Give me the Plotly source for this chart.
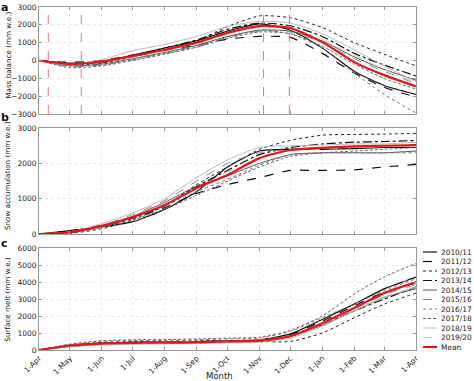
import plotly.graph_objects as go
from plotly.subplots import make_subplots

# ---------------- data ----------------
dates = ["2019-04-01", "2019-05-01", "2019-06-01", "2019-07-01", "2019-08-01", "2019-09-01",
         "2019-10-01", "2019-11-01", "2019-12-01", "2020-01-01", "2020-02-01", "2020-03-01",
         "2020-04-01"]

series_names = ["2010/11", "2011/12", "2012/13", "2013/14", "2014/15", "2015/16",
                "2016/17", "2017/18", "2018/19", "2019/20", "Mean"]

mass_balance = {
    "2010/11": [0, -150, -100, 300, 700, 1100, 1650, 2050, 1700, 700, -600, -1400, -1900],
    "2011/12": [0, -100, 0, 300, 600, 850, 1200, 1350, 1300, 400, -700, -1500, -2050],
    "2012/13": [0, -250, -150, 200, 600, 1100, 1900, 2500, 2400, 1850, 1000, 350, -300],
    "2013/14": [0, -200, -50, 250, 700, 1150, 1750, 2100, 1950, 1350, 400, -250, -870],
    "2014/15": [0, -300, -200, 100, 450, 850, 1350, 1700, 1650, 1100, 200, -500, -1100],
    "2015/16": [0, -350, -250, 50, 400, 800, 1300, 1650, 1600, 1000, 100, -600, -1300],
    "2016/17": [0, -300, -250, 50, 400, 750, 1300, 1700, 1500, 700, -700, -1900, -2950],
    "2017/18": [0, -400, -300, 0, 350, 750, 1250, 1600, 1500, 800, -200, -1000, -1600],
    "2018/19": [0, -250, 50, 550, 900, 1350, 1900, 2200, 2100, 1500, 600, -300, -1190],
    "2019/20": [0, -200, -100, 200, 550, 950, 1500, 1850, 1800, 1200, 300, -500, -1250],
    "Mean":    [0, -200, -50, 250, 600, 1000, 1550, 1930, 1820, 1030, -90, -820, -1450],
}

snow_accumulation = {
    "2010/11": [0, 100, 200, 350, 700, 1200, 1900, 2350, 2400, 2400, 2420, 2450, 2450],
    "2011/12": [0, 80, 250, 450, 750, 1150, 1400, 1600, 1800, 1800, 1820, 1900, 1970],
    "2012/13": [0, 20, 150, 400, 800, 1400, 1900, 2400, 2650, 2800, 2820, 2830, 2850],
    "2013/14": [0, 50, 200, 450, 800, 1350, 1800, 2250, 2450, 2550, 2600, 2620, 2650],
    "2014/15": [0, 50, 200, 500, 900, 1350, 1650, 2000, 2250, 2300, 2300, 2300, 2350],
    "2015/16": [0, 60, 250, 550, 950, 1500, 2000, 2300, 2400, 2450, 2480, 2500, 2500],
    "2016/17": [0, 30, 250, 500, 800, 1200, 1550, 1950, 2250, 2300, 2300, 2300, 2300],
    "2017/18": [0, 50, 200, 400, 700, 1100, 1500, 1900, 2200, 2300, 2350, 2400, 2450],
    "2018/19": [0, 60, 300, 600, 1000, 1600, 2100, 2450, 2500, 2520, 2550, 2550, 2600],
    "2019/20": [0, 40, 200, 500, 850, 1300, 1750, 2150, 2350, 2400, 2450, 2480, 2500],
    "Mean":    [0, 50, 230, 480, 820, 1300, 1670, 2150, 2380, 2440, 2480, 2500, 2520],
}

surface_melt = {
    "2010/11": [0, 250, 400, 450, 470, 500, 550, 600, 950, 1800, 2700, 3600, 4300],
    "2011/12": [0, 200, 350, 400, 420, 450, 500, 550, 900, 1700, 2600, 3400, 3950],
    "2012/13": [0, 300, 450, 500, 520, 540, 560, 500, 500, 1000, 1900, 2700, 3350],
    "2013/14": [0, 250, 400, 430, 450, 480, 520, 550, 850, 1500, 2300, 3000, 3700],
    "2014/15": [0, 300, 420, 460, 480, 500, 530, 580, 800, 1450, 2300, 3100, 3600],
    "2015/16": [0, 250, 400, 450, 470, 500, 550, 600, 850, 1500, 2400, 3250, 3850],
    "2016/17": [0, 300, 500, 550, 570, 600, 650, 700, 1100, 1900, 2700, 3500, 4200],
    "2017/18": [0, 350, 550, 600, 620, 650, 700, 750, 1150, 2000, 3300, 4300, 5100],
    "2018/19": [0, 200, 300, 330, 350, 380, 420, 450, 700, 1400, 2300, 3100, 3700],
    "2019/20": [0, 200, 350, 380, 400, 430, 480, 530, 800, 1500, 2400, 3300, 4500],
    "Mean":    [0, 250, 380, 420, 430, 450, 500, 550, 820, 1580, 2470, 3350, 4000],
}

event_dates = ["2019-04-10", "2019-05-12", "2019-11-05", "2019-11-30"]

panel_titles = ["Mass balance (mm w.e.)", "Snow accumulation (mm w.e.)", "Surface melt (mm w.e.)"]
panel_letters = ["a", "b", "c"]

# ---------------- styles ----------------
styles = {
    "2010/11": dict(color="#111111", dash="solid", width=1.2),
    "2011/12": dict(color="#111111", dash="dash", width=1.2),
    "2012/13": dict(color="#222222", dash="dot", width=1.0),
    "2013/14": dict(color="#111111", dash="dashdot", width=1.2),
    "2014/15": dict(color="#555555", dash="solid", width=1.0),
    "2015/16": dict(color="#8a8a8a", dash="dash", width=1.0),
    "2016/17": dict(color="#777777", dash="dot", width=1.0),
    "2017/18": dict(color="#666666", dash="3px,2px", width=1.0),
    "2018/19": dict(color="#bbbbbb", dash="solid", width=1.0),
    "2019/20": dict(color="#c4c4c4", dash="dash", width=1.0),
    "Mean":    dict(color="#e3161e", dash="solid", width=2.2),
}

FONT = "DejaVu Sans"
fig = make_subplots(rows=3, cols=1, shared_xaxes=True)

for r, data in enumerate([mass_balance, snow_accumulation, surface_melt], start=1):
    for name in series_names:
        fig.add_trace(go.Scatter(x=dates, y=data[name], mode="lines", name=name,
                                 line=dict(shape="spline", smoothing=0.6, **styles[name]),
                                 showlegend=False), row=r, col=1)

for d in event_dates:
    fig.add_vline(x=d, line=dict(color="#ec6f93", width=1, dash="dash"), row=1, col=1)

# axes
yranges = [[-3000, 3000], [0, 3000], [0, 6000]]
ydomains = [[0.688, 1.0], [0.338, 0.647], [0.0, 0.297]]
for i in range(3):
    ax = "yaxis" if i == 0 else f"yaxis{i+1}"
    xa = "xaxis" if i == 0 else f"xaxis{i+1}"
    fig.layout[ax].update(range=yranges[i], domain=ydomains[i], dtick=1000,
                          showgrid=True, gridcolor="#ebebeb", griddash="dot", gridwidth=1,
                          zeroline=False, showline=True, linecolor="#999999", linewidth=1,
                          mirror="ticks", ticks="inside", ticklen=3, tickcolor="#999999",
                          tickfont=dict(family=FONT, size=7.5, color="#222222"))
    fig.layout[xa].update(type="date", range=["2019-04-01", "2020-04-01"],
                          tick0="2019-04-01", dtick="M1", tickformat="%-d-%b",
                          showgrid=True, gridcolor="#ebebeb", griddash="dot", gridwidth=1,
                          zeroline=False, showline=True, linecolor="#999999", linewidth=1,
                          mirror="ticks", ticks="inside", ticklen=3, tickcolor="#999999",
                          showticklabels=(i == 2), tickangle=-45,
                          tickfont=dict(family=FONT, size=7.5, color="#222222"))

# axis titles and panel letters
ylabel_centers = [0.86, 0.509, 0.146]
letter_y = [0.998, 0.677, 0.31]
for i in range(3):
    fig.add_annotation(xref="paper", yref="paper", x=-0.083, y=ylabel_centers[i],
                       text=panel_titles[i], textangle=-90, showarrow=False,
                       font=dict(family=FONT, size=7.2, color="#222222"),
                       xanchor="center", yanchor="middle")
    fig.add_annotation(xref="paper", yref="paper", x=-0.106, y=letter_y[i],
                       text="<b>%s</b>" % panel_letters[i], showarrow=False,
                       font=dict(family=FONT, size=11, color="#111111"),
                       xanchor="left", yanchor="middle")

fig.add_annotation(xref="paper", yref="paper", x=0.48, y=-0.077, text="Month",
                   showarrow=False, font=dict(family=FONT, size=8.5, color="#222222"),
                   xanchor="center", yanchor="middle")

# manual legend (compact key lines like the reference)
def px_x(p):
    return (p - 39) / 377.0

def px_y(p):
    return (350 - p) / 343.0

for k, name in enumerate(series_names):
    yc = 252 + k * 9.5
    st = styles[name]
    fig.add_shape(type="line", xref="paper", yref="paper",
                  x0=px_x(423), x1=px_x(437), y0=px_y(yc), y1=px_y(yc),
                  line=dict(color=st["color"], width=st["width"], dash=st["dash"]))
    fig.add_annotation(xref="paper", yref="paper", x=px_x(438.5), y=px_y(yc),
                       text=name, showarrow=False, xanchor="left", yanchor="middle",
                       font=dict(family=FONT, size=7.4, color="#222222"))

fig.update_layout(width=474, height=381, margin=dict(l=39, r=58, t=7, b=31, autoexpand=False),
                  plot_bgcolor="white", paper_bgcolor="white", showlegend=False)

fig.write_html("out.html", config={"displayModeBar": False},
               post_script="document.body.style.margin='0';document.body.style.overflow='hidden';")
